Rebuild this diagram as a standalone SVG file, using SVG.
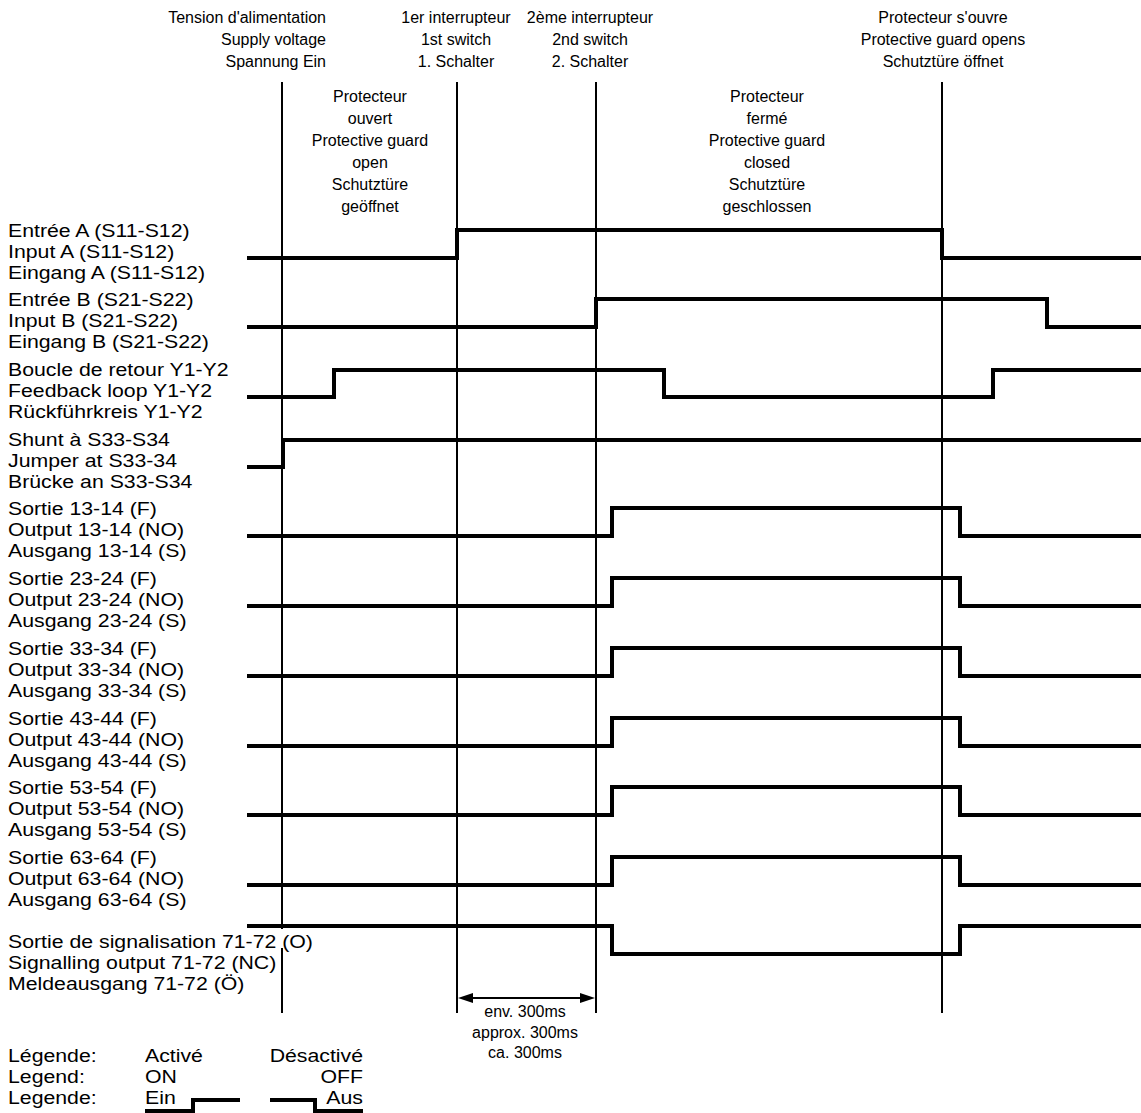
<svg xmlns="http://www.w3.org/2000/svg" width="1141" height="1113" viewBox="0 0 1141 1113">
<defs>
<style>
text{font-family:"Liberation Sans",Arial,Helvetica,sans-serif;fill:#000}
.h{font-size:16px}
.c{text-anchor:middle}
.e{text-anchor:end}
.lbl{font-size:18.5px}
.sig{fill:none;stroke:#000;stroke-width:4;stroke-linejoin:miter;stroke-linecap:butt}
.ev{fill:none;stroke:#000;stroke-width:2}
</style>
</defs>
<rect width="1141" height="1113" fill="#fff"/>

<g id="events">
<line class="ev" x1="282" y1="82" x2="282" y2="929"/>
<line class="ev" x1="282" y1="948" x2="282" y2="1013"/>
<line class="ev" x1="457" y1="82" x2="457" y2="1013"/>
<line class="ev" x1="596" y1="82" x2="596" y2="1013"/>
<line class="ev" x1="942" y1="82" x2="942" y2="1013"/>
<line class="ev" x1="470" y1="998" x2="583" y2="998"/>
<polygon points="458,998 473,993 473,1003" fill="#000"/>
<polygon points="595,998 580,993 580,1003" fill="#000"/>
</g>

<g id="header-supply">
<text class="h e" x="326" y="23">Tension d'alimentation</text>
<text class="h e" x="326" y="45">Supply voltage</text>
<text class="h e" x="326" y="67">Spannung Ein</text>
</g>
<g id="header-switch1">
<text class="h c" x="456" y="23">1er interrupteur</text>
<text class="h c" x="456" y="45">1st switch</text>
<text class="h c" x="456" y="67">1. Schalter</text>
</g>
<g id="header-switch2">
<text class="h c" x="590" y="23">2ème interrupteur</text>
<text class="h c" x="590" y="45">2nd switch</text>
<text class="h c" x="590" y="67">2. Schalter</text>
</g>
<g id="header-opens">
<text class="h c" x="943" y="23">Protecteur s'ouvre</text>
<text class="h c" x="943" y="45">Protective guard opens</text>
<text class="h c" x="943" y="67">Schutztüre öffnet</text>
</g>
<g id="state-open">
<text class="h c" x="370" y="102">Protecteur</text>
<text class="h c" x="370" y="124">ouvert</text>
<text class="h c" x="370" y="146">Protective guard</text>
<text class="h c" x="370" y="168">open</text>
<text class="h c" x="370" y="190">Schutztüre</text>
<text class="h c" x="370" y="212">geöffnet</text>
</g>
<g id="state-closed">
<text class="h c" x="767" y="102">Protecteur</text>
<text class="h c" x="767" y="124">fermé</text>
<text class="h c" x="767" y="146">Protective guard</text>
<text class="h c" x="767" y="168">closed</text>
<text class="h c" x="767" y="190">Schutztüre</text>
<text class="h c" x="767" y="212">geschlossen</text>
</g>

<g id="labels" transform="translate(8,0) scale(1.15,1)">
<text class="lbl" x="0" y="237">Entrée A (S11-S12)</text>
<text class="lbl" x="0" y="258">Input A (S11-S12)</text>
<text class="lbl" x="0" y="279">Eingang A (S11-S12)</text>
<text class="lbl" x="0" y="306">Entrée B (S21-S22)</text>
<text class="lbl" x="0" y="327">Input B (S21-S22)</text>
<text class="lbl" x="0" y="348">Eingang B (S21-S22)</text>
<text class="lbl" x="0" y="376">Boucle de retour Y1-Y2</text>
<text class="lbl" x="0" y="397">Feedback loop Y1-Y2</text>
<text class="lbl" x="0" y="418">Rückführkreis Y1-Y2</text>
<text class="lbl" x="0" y="446">Shunt à S33-S34</text>
<text class="lbl" x="0" y="467">Jumper at S33-34</text>
<text class="lbl" x="0" y="488">Brücke an S33-S34</text>
<text class="lbl" x="0" y="515">Sortie 13-14 (F)</text>
<text class="lbl" x="0" y="536">Output 13-14 (NO)</text>
<text class="lbl" x="0" y="557">Ausgang 13-14 (S)</text>
<text class="lbl" x="0" y="585">Sortie 23-24 (F)</text>
<text class="lbl" x="0" y="606">Output 23-24 (NO)</text>
<text class="lbl" x="0" y="627">Ausgang 23-24 (S)</text>
<text class="lbl" x="0" y="655">Sortie 33-34 (F)</text>
<text class="lbl" x="0" y="676">Output 33-34 (NO)</text>
<text class="lbl" x="0" y="697">Ausgang 33-34 (S)</text>
<text class="lbl" x="0" y="725">Sortie 43-44 (F)</text>
<text class="lbl" x="0" y="746">Output 43-44 (NO)</text>
<text class="lbl" x="0" y="767">Ausgang 43-44 (S)</text>
<text class="lbl" x="0" y="794">Sortie 53-54 (F)</text>
<text class="lbl" x="0" y="815">Output 53-54 (NO)</text>
<text class="lbl" x="0" y="836">Ausgang 53-54 (S)</text>
<text class="lbl" x="0" y="864">Sortie 63-64 (F)</text>
<text class="lbl" x="0" y="885">Output 63-64 (NO)</text>
<text class="lbl" x="0" y="906">Ausgang 63-64 (S)</text>
<text class="lbl" x="0" y="948">Sortie de signalisation 71-72 (O)</text>
<text class="lbl" x="0" y="969">Signalling output 71-72 (NC)</text>
<text class="lbl" x="0" y="990">Meldeausgang 71-72 (Ö)</text>
<text class="lbl" x="0" y="1062">Légende:</text>
<text class="lbl" x="0" y="1083">Legend:</text>
<text class="lbl" x="0" y="1104">Legende:</text>
</g>

<g id="signals">
<polyline id="sig-A" class="sig" points="247,258 457,258 457,230 942,230 942,258 1141,258"/>
<polyline id="sig-B" class="sig" points="247,327 596,327 596,299 1047,299 1047,327 1141,327"/>
<polyline id="sig-FB" class="sig" points="247,397 334,397 334,370 664,370 664,397 993,397 993,370 1141,370"/>
<polyline id="sig-J" class="sig" points="247,467 283,467 283,440 1141,440"/>
<polyline id="sig-13" class="sig" points="247,536 612,536 612,508 960,508 960,536 1141,536"/>
<polyline id="sig-23" class="sig" points="247,606 612,606 612,578 960,578 960,606 1141,606"/>
<polyline id="sig-33" class="sig" points="247,676 612,676 612,648 960,648 960,676 1141,676"/>
<polyline id="sig-43" class="sig" points="247,746 612,746 612,718 960,718 960,746 1141,746"/>
<polyline id="sig-53" class="sig" points="247,815 612,815 612,787 960,787 960,815 1141,815"/>
<polyline id="sig-63" class="sig" points="247,885 612,885 612,857 960,857 960,885 1141,885"/>
<polyline id="sig-71" class="sig" points="247,926 612,926 612,954 960,954 960,926 1141,926"/>
</g>

<g id="delay-label">
<text class="h c" x="525" y="1017">env. 300ms</text>
<text class="h c" x="525" y="1038">approx. 300ms</text>
<text class="h c" x="525" y="1058">ca. 300ms</text>
</g>

<g id="legend">
<g transform="translate(145,0) scale(1.15,1)">
<text class="lbl" x="0" y="1062">Activé</text>
<text class="lbl" x="0" y="1083">ON</text>
<text class="lbl" x="0" y="1104">Ein</text>
</g>
<g transform="translate(363,0) scale(1.15,1)">
<text class="lbl e" x="0" y="1062">Désactivé</text>
<text class="lbl e" x="0" y="1083">OFF</text>
<text class="lbl e" x="0" y="1104">Aus</text>
</g>
<polyline class="sig" points="145,1111 193,1111 193,1100 240,1100"/>
<polyline class="sig" points="270,1100 315,1100 315,1111 363,1111"/>
</g>
</svg>
